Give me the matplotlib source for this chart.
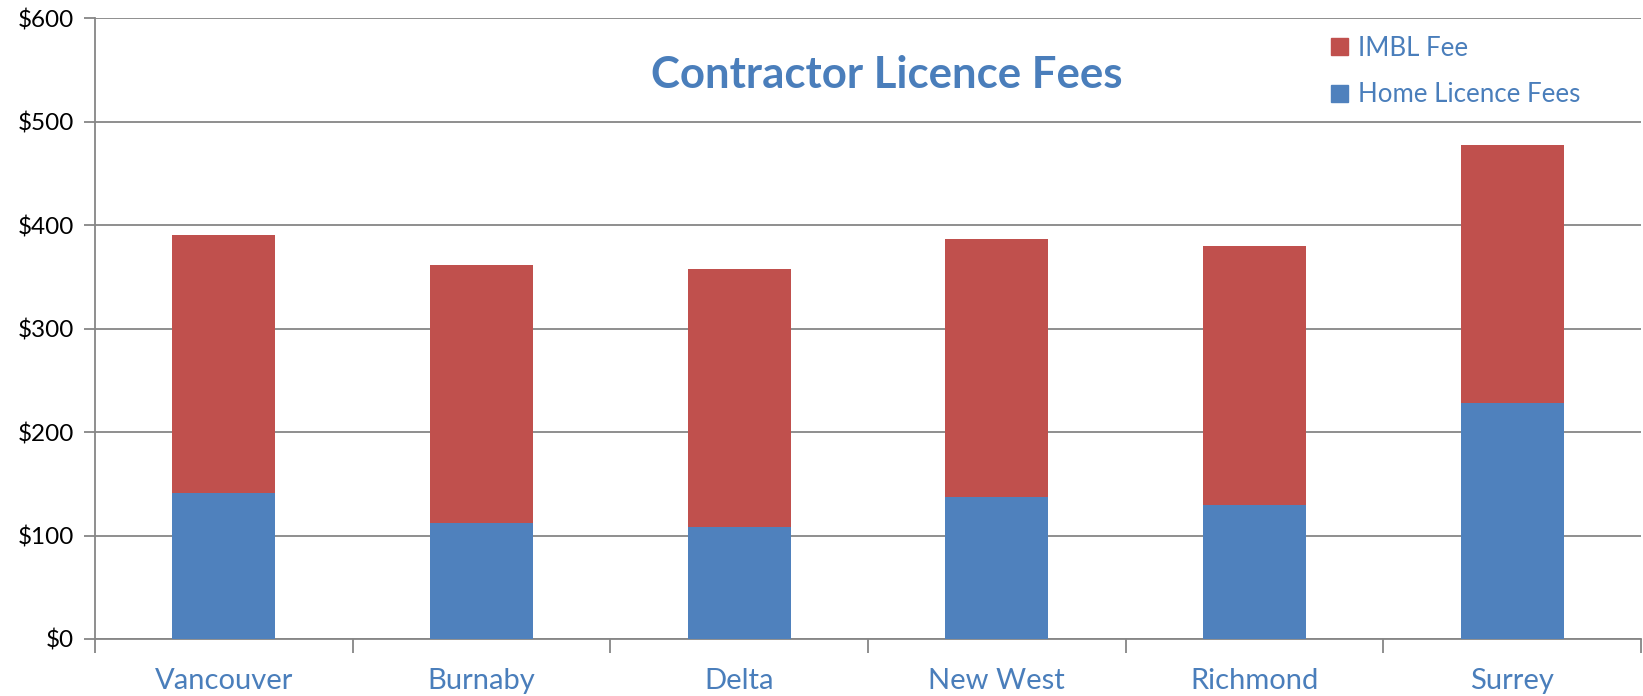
import numpy as np
import matplotlib
matplotlib.use("Agg")
import matplotlib.pyplot as plt
from matplotlib.patches import Patch

# data
cities = ["Vancouver", "Burnaby", "Delta", "New West", "Richmond", "Surrey"]
home_fees = [141, 112, 108, 137, 130, 228]
imbl_fees = [250, 250, 250, 250, 250, 250]
y_ticks = [0, 100, 200, 300, 400, 500, 600]

blue = "#4F81BD"
red = "#C0504D"
text_blue = "#4A7EBB"
grid_gray = "#868686"

plt.rcParams["font.family"] = ["Lato", "DejaVu Sans"]

fig = plt.figure(figsize=(16.43, 6.96), dpi=100)
ax = fig.add_axes([0.0578, 0.0819, 0.941, 0.8918])

x = np.arange(len(cities))
ax.bar(x, home_fees, width=0.4, color=blue, zorder=3)
ax.bar(x, imbl_fees, width=0.4, bottom=home_fees, color=red, zorder=3)

ax.set_xlim(-0.5, len(cities) - 0.5)
ax.set_ylim(0, 600)
ax.set_yticks(y_ticks)
ax.set_yticklabels([f"${v}" for v in y_ticks], fontsize=17.5, color="black")
ax.yaxis.grid(True, color=grid_gray, linewidth=1.3, zorder=0)
ax.tick_params(axis="y", length=8, width=1.3, color=grid_gray, pad=7)

# labels at category centres, tick marks between categories
ax.set_xticks(x)
ax.set_xticklabels(cities, fontsize=21, color=text_blue)
ax.tick_params(axis="x", which="major", length=0, pad=21)
ax.set_xticks(np.arange(-0.5, len(cities)), minor=True)
ax.tick_params(axis="x", which="minor", length=10, width=1.3, color=grid_gray)

for side in ["top", "right"]:
    ax.spines[side].set_visible(False)
for side in ["left", "bottom"]:
    ax.spines[side].set_color(grid_gray)
    ax.spines[side].set_linewidth(1.3)

fig.text(0.54, 0.892, "Contractor Licence Fees", fontsize=31.5, fontweight="bold",
         color=text_blue, ha="center", va="center")

handles = [Patch(color=red, label="IMBL Fee"), Patch(color=blue, label="Home Licence Fees")]
leg = ax.legend(handles=handles, loc="upper left", bbox_to_anchor=(0.8025, 0.967),
                bbox_transform=fig.transFigure, frameon=False, fontsize=18.6,
                handlelength=0.64, handleheight=0.64, handletextpad=0.4,
                labelspacing=0.83, borderpad=0)
for t in leg.get_texts():
    t.set_color(text_blue)

fig.savefig("out.png", dpi=100)
